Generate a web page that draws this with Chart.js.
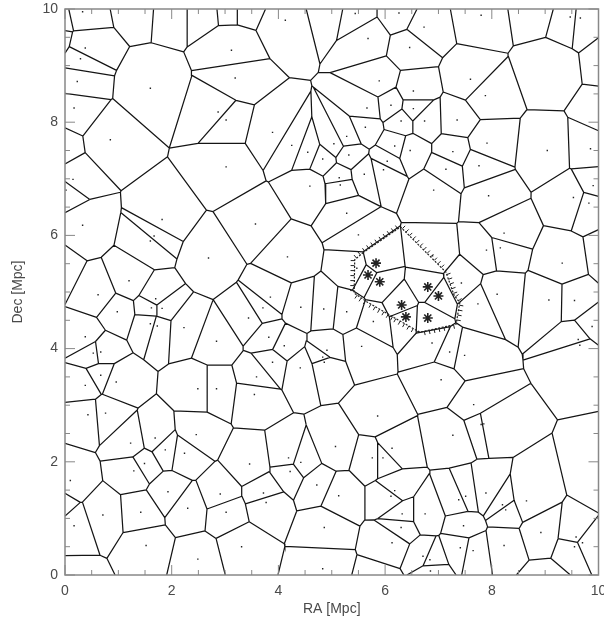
<!DOCTYPE html>
<html><head><meta charset="utf-8">
<script src="https://cdn.jsdelivr.net/npm/chart.js@4/dist/chart.umd.min.js"></script>
<style>html,body{margin:0;padding:0;overflow:hidden;background:#fff}#wrap{width:620px;height:623px;position:relative}</style>
</head><body><div id="wrap"><canvas id="c"></canvas></div>
<script>
// Galaxy positions (RA, Dec in Mpc)
const galaxyX = [0.33,0.38,0.29,0.23,0.17,0.85,1.60,3.12,3.19,2.87,3.02,4.13,5.44,6.26,5.68,6.46,5.89,6.53,5.66,6.11,6.53,5.63,6.30,3.89,5.28,4.25,5.04,6.18,6.47,4.55,7.80,6.73,9.47,9.66,7.60,7.88,7.35,6.74,7.91,9.04,9.85,3.02,0.15,0.02,1.82,0.33,1.67,1.60,2.69,1.20,0.62,4.83,5.32,6.04,5.97,5.61,5.14,5.16,4.59,5.28,3.57,5.50,4.17,5.47,7.27,7.14,7.76,6.91,7.94,9.53,9.82,9.90,8.23,7.90,8.16,6.89,9.32,7.43,8.10,1.70,1.62,1.82,0.98,1.60,1.73,2.23,0.38,2.84,0.53,0.67,0.67,0.96,0.38,2.49,2.84,0.43,0.76,2.46,3.85,3.71,4.42,4.85,3.44,5.28,5.78,3.82,4.11,5.56,4.91,4.83,4.86,3.89,4.41,3.59,3.55,5.86,9.07,9.55,7.74,9.88,9.62,9.65,6.88,7.21,7.49,7.05,7.66,7.80,7.85,7.27,1.23,1.69,1.88,2.24,1.49,1.29,0.10,1.93,2.91,0.71,1.42,2.30,3.02,0.17,1.52,2.49,5.07,6.13,4.19,4.42,5.76,5.96,3.46,4.22,4.72,3.72,3.77,5.13,6.18,6.11,6.32,6.30,4.86,6.13,3.31,4.83,7.89,7.51,7.38,8.65,8.20,8.26,6.75,7.47,8.92,8.23,7.41,7.65,9.58,9.70,9.55,6.71,6.84,6.85];
const galaxyY = [9.95,9.31,9.12,8.72,8.25,7.69,8.60,9.27,8.78,8.18,8.04,9.80,9.92,9.93,9.48,9.32,8.73,8.55,8.25,8.30,8.24,7.91,8.02,7.82,7.75,7.59,7.62,7.58,7.50,7.47,9.89,9.68,9.86,9.84,8.76,8.47,8.04,8.02,7.63,7.50,7.53,7.21,6.99,6.80,6.28,6.18,5.99,5.90,5.60,5.20,4.95,7.35,7.42,7.31,7.16,7.08,7.02,6.89,6.87,6.39,6.20,6.01,5.62,5.42,7.48,7.17,7.23,6.80,6.70,6.67,6.57,6.88,6.04,5.74,5.78,5.64,5.51,5.16,4.96,4.88,4.72,4.71,4.65,4.44,4.40,4.37,4.21,4.13,3.92,3.94,3.53,3.41,3.35,3.29,3.29,2.83,2.86,2.48,4.91,4.72,4.73,4.70,4.54,4.65,4.48,4.20,4.05,4.04,3.97,3.85,3.76,3.76,3.66,3.50,3.19,2.81,4.86,4.85,4.79,4.39,4.16,4.06,4.10,3.94,3.88,3.45,3.01,2.66,2.67,2.47,2.33,2.42,2.21,2.15,1.97,1.84,1.67,1.47,1.43,1.06,1.11,1.18,1.11,0.87,0.52,0.28,2.27,2.24,2.07,1.99,2.07,2.07,1.96,1.83,1.59,1.45,1.28,1.40,1.49,1.39,1.08,0.84,0.84,0.57,0.50,0.11,1.45,1.39,1.33,1.31,1.24,1.15,1.08,0.87,0.75,0.52,0.48,0.43,0.67,0.57,0.50,0.33,0.27,0.07];
// Group members (asterisks)
const memberX = [5.83,5.68,5.90,6.80,7.00,6.31,6.39,6.80];
const memberY = [5.51,5.30,5.18,5.09,4.93,4.77,4.56,4.54];
// Generators of cells whose galaxy is not visible (estimated, mostly beyond the frame)
const hiddenX = [-0.14,-0.20,1.34,2.00,2.58,3.09,3.37,4.96,8.81,9.09,10.22,10.12,-0.14,-0.20,10.22,-0.14,0.18,5.90,9.00,10.12];
const hiddenY = [9.84,9.45,10.16,10.11,10.11,10.16,10.16,10.02,10.05,8.92,9.06,8.18,7.54,5.39,5.65,1.24,-0.18,-0.18,-0.18,1.68];
// Group boundary polygon
const groupBX = [5.58,6.29,7.14,7.29,7.40,7.33,6.65,6.18,5.67,5.42,5.43,5.58];
const groupBY = [5.69,6.15,5.35,4.95,4.81,4.43,4.29,4.54,4.82,4.98,5.57,5.69];
const xTicks = [0,2,4,6,8,10];
const yTicks = [0,2,4,6,8,10];

const seedsX = galaxyX.concat(memberX, hiddenX);
const seedsY = galaxyY.concat(memberY, hiddenY);

function voronoiEdges(){
  const n = seedsX.length, segs = [];
  for (let i=0;i<n;i++){
    const xi=seedsX[i], yi=seedsY[i];
    let poly=[[0,0,-1],[10,0,-1],[10,10,-1],[0,10,-1]];
    for (let j=0;j<n && poly.length;j++){
      if (j===i) continue;
      const xj=seedsX[j], yj=seedsY[j];
      const ax=xj-xi, ay=yj-yi;
      if (ax===0 && ay===0) continue;
      const c=(xj*xj+yj*yj-xi*xi-yi*yi)/2;
      const out=[];
      for (let k=0;k<poly.length;k++){
        const p=poly[k], q=poly[(k+1)%poly.length];
        const dp=ax*p[0]+ay*p[1]-c, dq=ax*q[0]+ay*q[1]-c;
        if (dp<=0){
          out.push(p);
          if (dq>0){ const t=dp/(dp-dq); out.push([p[0]+t*(q[0]-p[0]),p[1]+t*(q[1]-p[1]),j]); }
        } else if (dq<=0){
          const t=dp/(dp-dq); out.push([p[0]+t*(q[0]-p[0]),p[1]+t*(q[1]-p[1]),p[2]]);
        }
      }
      poly=out;
    }
    for (let k=0;k<poly.length;k++){
      const p=poly[k], q=poly[(k+1)%poly.length];
      if (p[2]>i){ segs.push({x:p[0],y:p[1]},{x:q[0],y:q[1]},{x:null,y:null}); }
    }
  }
  return segs;
}

const framePlugin = {
  id:'frame',
  afterDatasetsDraw(chart){
    const {ctx, chartArea:a, scales:{x,y}} = chart;
    ctx.save();
    const pts = groupBX.map((v,i)=>[x.getPixelForValue(v), y.getPixelForValue(groupBY[i])]);
    let cx=0, cy=0; for (let i=0;i<pts.length-1;i++){cx+=pts[i][0];cy+=pts[i][1];}
    cx/=pts.length-1; cy/=pts.length-1;
    ctx.strokeStyle='#222'; ctx.lineWidth=1;
    ctx.beginPath();
    for (let i=0;i<pts.length-1;i++){
      const [x1,y1]=pts[i],[x2,y2]=pts[i+1];
      const L=Math.hypot(x2-x1,y2-y1); if (!L) continue;
      let nx=-(y2-y1)/L, ny=(x2-x1)/L;
      const mx=(x1+x2)/2, my=(y1+y2)/2;
      if ((mx-cx)*nx+(my-cy)*ny<0){nx=-nx;ny=-ny;}
      for (let s=2.5;s<L;s+=5){
        const px=x1+(x2-x1)*s/L, py=y1+(y2-y1)*s/L;
        ctx.moveTo(px,py); ctx.lineTo(px+nx*4,py+ny*4);
      }
    }
    ctx.stroke();
    ctx.strokeStyle='#888'; ctx.lineWidth=1.5;
    ctx.strokeRect(a.left,a.top,a.right-a.left,a.bottom-a.top);
    ctx.lineWidth=1; ctx.beginPath();
    for (let v=0; v<=10.001; v+=0.5){
      const len = (Math.abs(v/2-Math.round(v/2))<1e-6)?10:5;
      const px=x.getPixelForValue(v), py=y.getPixelForValue(v);
      ctx.moveTo(px,a.bottom); ctx.lineTo(px,a.bottom-len);
      ctx.moveTo(px,a.top); ctx.lineTo(px,a.top+len);
      ctx.moveTo(a.left,py); ctx.lineTo(a.left+len,py);
      ctx.moveTo(a.right,py); ctx.lineTo(a.right-len,py);
    }
    ctx.stroke();
    ctx.restore();
  }
};

const fitX = s=>{s.height=48;s.paddingLeft=0;s.paddingRight=0;s.paddingTop=0;s.paddingBottom=0;};
const fitY = s=>{s.width=65;s.paddingLeft=0;s.paddingRight=0;s.paddingTop=0;s.paddingBottom=0;};
const font = {family:'"Liberation Sans", Arial, sans-serif', size:14};

new Chart(document.getElementById('c'), {
  type:'scatter',
  data:{datasets:[
    {label:'members', data:memberX.map((v,i)=>({x:v,y:memberY[i]})), pointStyle:'star', pointRadius:5, borderColor:'#222', borderWidth:1.6, backgroundColor:'#222'},
    {label:'group', data:groupBX.map((v,i)=>({x:v,y:groupBY[i]})), showLine:true, pointRadius:0, borderColor:'#222', borderWidth:1.2, borderDash:[2,1.5]},
    {label:'galaxies', data:galaxyX.map((v,i)=>({x:v,y:galaxyY[i]})), pointStyle:'rect', pointRadius:1, borderWidth:0, backgroundColor:'#222'},
    {label:'cells', data:voronoiEdges(), showLine:true, spanGaps:false, pointRadius:0, borderColor:'#151515', borderWidth:1.25}
  ]},
  options:{
    responsive:true, maintainAspectRatio:false, animation:false,
    layout:{padding:{top:9,right:21.5,bottom:0,left:0}},
    plugins:{legend:{display:false}, tooltip:{enabled:false}},
    scales:{
      x:{type:'linear', min:0, max:10, afterFit:fitX,
         afterBuildTicks:s=>{s.ticks=xTicks.map(v=>({value:v}));},
         grid:{display:false, drawTicks:false}, border:{display:false},
         ticks:{padding:8, color:'#4a4a4a', font, maxRotation:0},
         title:{display:true, text:'RA [Mpc]', color:'#4a4a4a', font, padding:{top:2,bottom:5}}},
      y:{type:'linear', min:0, max:10, afterFit:fitY,
         afterBuildTicks:s=>{s.ticks=yTicks.map(v=>({value:v}));},
         grid:{display:false, drawTicks:false}, border:{display:false},
         ticks:{padding:7, color:'#4a4a4a', font},
         title:{display:true, text:'Dec [Mpc]', color:'#4a4a4a', font, padding:{top:10,bottom:2}}}
    }
  },
  plugins:[framePlugin]
});
</script></body></html>
